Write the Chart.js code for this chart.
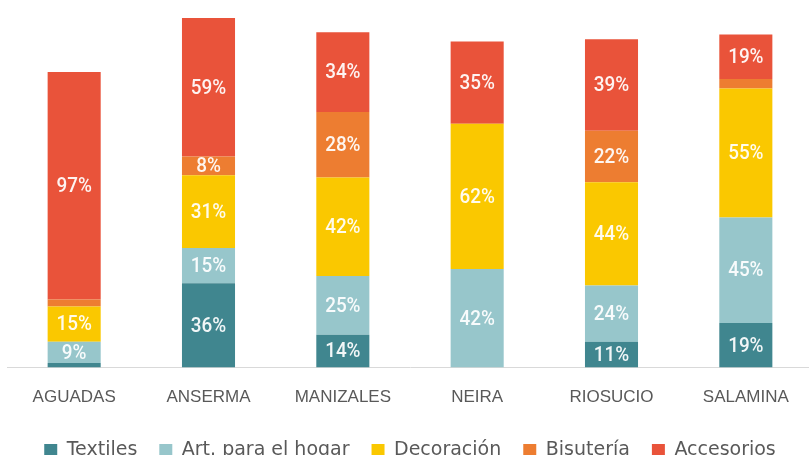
<!DOCTYPE html>
<html>
<head>
<meta charset="utf-8">
<script src="https://cdn.jsdelivr.net/npm/chart.js@4/dist/chart.umd.min.js"></script>
<style>
  html, body { margin: 0; padding: 0; background: #fff; overflow: hidden; }
  #wrap { position: relative; width: 813px; height: 470px; }
</style>
</head>
<body>
<div id="wrap"><canvas id="myChart"></canvas></div>
<script>
// datos (porcentajes)
var municipios = ['AGUADAS', 'ANSERMA', 'MANIZALES', 'NEIRA', 'RIOSUCIO', 'SALAMINA'];
var textiles   = [2, 36, 14, 0, 11, 19];
var artHogar   = [9, 15, 25, 42, 24, 45];
var decoracion = [15, 31, 42, 62, 44, 55];
var bisuteria  = [3, 8, 28, 0, 22, 4];
var accesorios = [97, 59, 34, 35, 39, 19];

var series = ['Textiles', 'Art. para el hogar', 'Decoración', 'Bisutería', 'Accesorios'];
var colores = ['#40868F', '#97C6CB', '#FAC800', '#ED7D31', '#E9533A'];

// plugin para escribir el % dentro de cada segmento
var etiquetas = {
  id: 'etiquetas',
  afterDatasetsDraw: function(chart) {
    var ctx = chart.ctx;
    ctx.save();
    ctx.font = '500 21px Roboto';
    ctx.fillStyle = 'rgba(255,255,255,0.93)';
    ctx.textAlign = 'center';
    ctx.textBaseline = 'middle';
    chart.data.datasets.forEach(function(ds, i) {
      var meta = chart.getDatasetMeta(i);
      meta.data.forEach(function(bar, j) {
        var v = ds.data[j];
        if (v < 5) return; // segmentos muy pequeños sin etiqueta
        var y = (bar.y + bar.base) / 2;
        ctx.save();
        ctx.translate(bar.x, y + 1);
        ctx.scale(0.9, 1);
        ctx.fillText(v + '%', 0, 0);
        ctx.restore();
      });
    });
    ctx.restore();
  }
};

var listas = [textiles, artHogar, decoracion, bisuteria, accesorios];
var datasets = series.map(function(nombre, i) {
  return {
    label: nombre,
    data: listas[i],
    backgroundColor: colores[i],
    borderWidth: 0,
    barPercentage: 0.395,
    categoryPercentage: 1
  };
});

var ctx = document.getElementById('myChart').getContext('2d');
var myChart = new Chart(ctx, {
  type: 'bar',
  data: { labels: municipios, datasets: datasets },
  options: {
    responsive: true,
    maintainAspectRatio: false,
    animation: false,
    layout: { padding: { top: 4, left: 7, right: 0, bottom: 0 } },
    plugins: {
      tooltip: { enabled: false },
      legend: {
        position: 'bottom',
        labels: {
          font: { family: 'DejaVu Sans', size: 19 },
          color: '#595959',
          boxWidth: 13,
          boxHeight: 13,
          padding: 22
        }
      }
    },
    scales: {
      x: {
        stacked: true,
        grid: { display: false, drawTicks: false },
        border: { display: true, color: '#D9D9D9', width: 1 },
        ticks: {
          padding: 20,
          color: '#595959',
          font: { family: 'Liberation Sans', size: 17 }
        },
        afterFit: function(scale) { scale.height -= 9; } // acercar la leyenda
      },
      y: {
        stacked: true,
        display: false,
        min: 0,
        max: 155
      }
    }
  },
  plugins: [etiquetas]
});
</script>
</body>
</html>
